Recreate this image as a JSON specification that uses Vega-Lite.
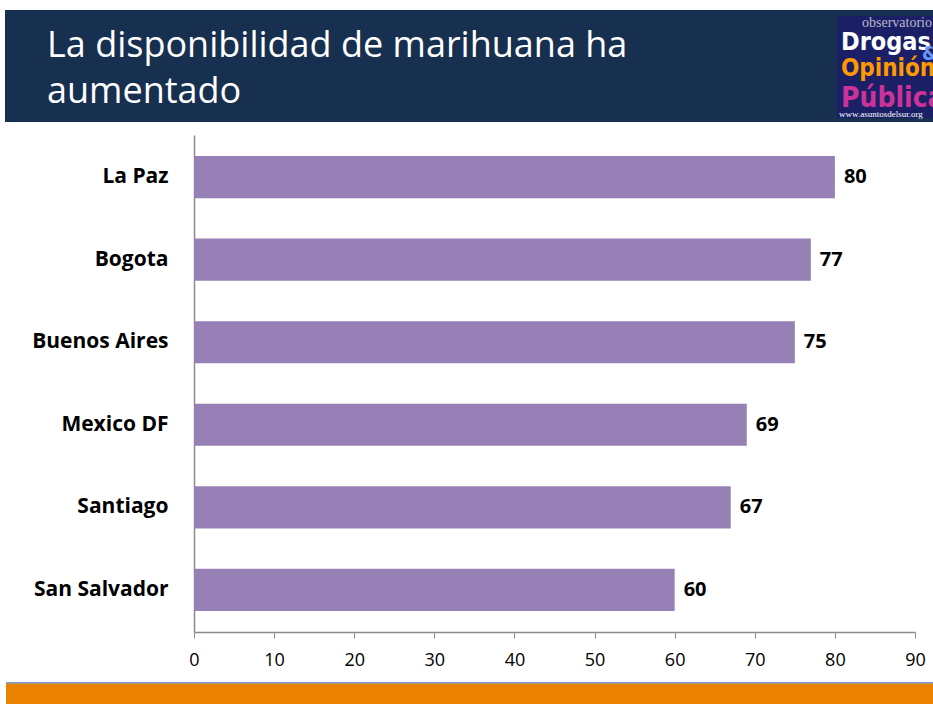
{
  "$schema": "https://vega.github.io/schema/vega-lite/v6.json",
  "padding": {"top": 10, "left": 5, "right": 0, "bottom": 0},
  "background": "white",
  "config": {"view": {"stroke": null}, "font": "Open Sans"},
  "spacing": 13,
  "vconcat": [
    {
      "width": 739,
      "height": 112,
      "layer": [
        {
          "data": {"values": [{"t": "header"}]},
          "mark": {"type": "rect", "color": "#17304f"},
          "encoding": {
            "x": {"datum": 5, "type": "quantitative", "scale": {"domain": [194, 933], "nice": false, "zero": false}, "axis": null},
            "x2": {"datum": 933},
            "y": {"datum": 10, "type": "quantitative", "scale": {"domain": [10, 122], "reverse": true, "nice": false, "zero": false}, "axis": null},
            "y2": {"datum": 122}
          }
        },
        {
          "data": {"values": [{"t": "La disponibilidad de marihuana ha"}]},
          "mark": {"type": "text", "align": "left", "baseline": "alphabetic", "color": "white", "fontSize": 36, "font": "Open Sans"},
          "encoding": {
            "x": {"datum": 47, "type": "quantitative"},
            "y": {"datum": 57, "type": "quantitative"},
            "text": {"field": "t"}
          }
        },
        {
          "data": {"values": [{"t": "aumentado"}]},
          "mark": {"type": "text", "align": "left", "baseline": "alphabetic", "color": "white", "fontSize": 36, "font": "Open Sans"},
          "encoding": {
            "x": {"datum": 47, "type": "quantitative"},
            "y": {"datum": 103, "type": "quantitative"},
            "text": {"field": "t"}
          }
        },
        {
          "data": {"values": [{"t": "logo"}]},
          "mark": {"type": "rect", "color": "#1b1f66"},
          "encoding": {
            "x": {"datum": 837, "type": "quantitative"},
            "x2": {"datum": 933},
            "y": {"datum": 16, "type": "quantitative"},
            "y2": {"datum": 118}
          }
        },
        {
          "data": {"values": [{"t": "observatorio"}]},
          "mark": {"type": "text", "align": "left", "baseline": "alphabetic", "color": "#b8b8cc", "fontSize": 14, "font": "Liberation Serif"},
          "encoding": {
            "x": {"datum": 862, "type": "quantitative"},
            "y": {"datum": 27, "type": "quantitative"},
            "text": {"field": "t"}
          }
        },
        {
          "data": {"values": [{"t": "Drogas"}]},
          "mark": {"type": "text", "align": "left", "baseline": "alphabetic", "color": "white", "fontSize": 25, "fontWeight": "bold", "font": "'Liberation Sans Narrow', 'DejaVu Sans Condensed', sans-serif"},
          "encoding": {
            "x": {"datum": 841, "type": "quantitative"},
            "y": {"datum": 50, "type": "quantitative"},
            "text": {"field": "t"}
          }
        },
        {
          "data": {"values": [{"t": "&"}]},
          "mark": {"type": "text", "align": "left", "baseline": "alphabetic", "color": "#6699ff", "fontSize": 20, "fontWeight": "bold", "font": "'Liberation Sans Narrow', 'DejaVu Sans Condensed', sans-serif"},
          "encoding": {
            "x": {"datum": 922, "type": "quantitative"},
            "y": {"datum": 60, "type": "quantitative"},
            "text": {"field": "t"}
          }
        },
        {
          "data": {"values": [{"t": "Opinión"}]},
          "mark": {"type": "text", "align": "left", "baseline": "alphabetic", "color": "#ff9900", "fontSize": 24, "fontWeight": "bold", "font": "'Liberation Sans Narrow', 'DejaVu Sans Condensed', sans-serif"},
          "encoding": {
            "x": {"datum": 841, "type": "quantitative"},
            "y": {"datum": 76, "type": "quantitative"},
            "text": {"field": "t"}
          }
        },
        {
          "data": {"values": [{"t": "Pública"}]},
          "mark": {"type": "text", "align": "left", "baseline": "alphabetic", "color": "#cc3399", "fontSize": 28, "fontWeight": "bold", "font": "'Liberation Sans Narrow', 'DejaVu Sans Condensed', sans-serif"},
          "encoding": {
            "x": {"datum": 841, "type": "quantitative"},
            "y": {"datum": 107, "type": "quantitative"},
            "text": {"field": "t"}
          }
        },
        {
          "data": {"values": [{"t": "www.asuntosdelsur.org"}]},
          "mark": {"type": "text", "align": "left", "baseline": "alphabetic", "color": "white", "fontSize": 9, "font": "Liberation Serif"},
          "encoding": {
            "x": {"datum": 839, "type": "quantitative"},
            "y": {"datum": 117, "type": "quantitative"},
            "text": {"field": "t"}
          }
        }
      ]
    },
    {
      "width": 721,
      "height": 497,
      "data": {
        "values": [
          {"city": "La Paz", "value": 80},
          {"city": "Bogota", "value": 77},
          {"city": "Buenos Aires", "value": 75},
          {"city": "Mexico DF", "value": 69},
          {"city": "Santiago", "value": 67},
          {"city": "San Salvador", "value": 60}
        ]
      },
      "encoding": {
        "y": {
          "field": "city",
          "type": "nominal",
          "sort": null,
          "title": null,
          "scale": {"paddingInner": 0.49, "paddingOuter": 0.255},
          "axis": {
            "labelFont": "Open Sans",
            "labelFontSize": 21,
            "labelFontWeight": "bold",
            "labelColor": "black",
            "labelPadding": 26,
            "ticks": false,
            "domainColor": "#8c8c8c",
            "domainWidth": 1.5
          }
        },
        "x": {
          "field": "value",
          "type": "quantitative",
          "title": null,
          "scale": {"domain": [0, 90]},
          "axis": {
            "values": [0, 10, 20, 30, 40, 50, 60, 70, 80, 90],
            "grid": false,
            "labelFont": "Open Sans",
            "labelFontSize": 18,
            "labelColor": "black",
            "labelPadding": 13,
            "tickSize": 6,
            "tickColor": "#8c8c8c",
            "domainColor": "#8c8c8c",
            "domainWidth": 1.5,
            "labelFlush": false
          }
        }
      },
      "layer": [
        {"mark": {"type": "bar", "color": "#9780b5"}},
        {
          "mark": {"type": "text", "align": "left", "baseline": "middle", "dx": 9, "fontSize": 20, "fontWeight": "bold", "font": "Open Sans", "color": "black"},
          "encoding": {"text": {"field": "value"}}
        }
      ]
    },
    {
      "width": 739,
      "height": 22,
      "data": {"values": [{"t": "footer"}]},
      "layer": [
        {
          "mark": {"type": "rect", "color": "#ea8200"},
          "encoding": {
            "x": {"datum": 6, "type": "quantitative", "scale": {"domain": [194, 933], "nice": false, "zero": false}, "axis": null},
            "x2": {"datum": 933},
            "y": {"datum": 682, "type": "quantitative", "scale": {"domain": [682, 704], "reverse": true, "nice": false, "zero": false}, "axis": null},
            "y2": {"datum": 704}
          }
        },
        {
          "mark": {"type": "rect", "color": "#7aa3d6"},
          "encoding": {
            "x": {"datum": 6, "type": "quantitative"},
            "x2": {"datum": 933},
            "y": {"datum": 682, "type": "quantitative"},
            "y2": {"datum": 683.5}
          }
        }
      ]
    }
  ]
}
